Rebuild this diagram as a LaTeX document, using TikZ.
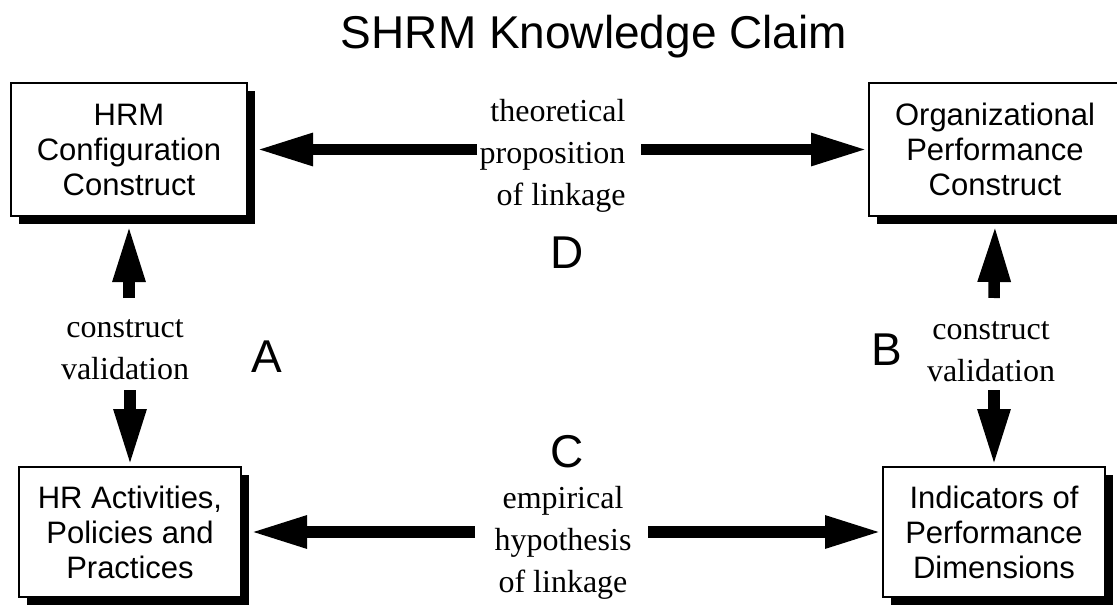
\documentclass[tikz,border=0pt]{standalone}
\usepackage{fontspec}
\setmainfont{Liberation Serif}
\setsansfont{Liberation Sans}
\usetikzlibrary{arrows.meta,shadows,calc}

\begin{document}
\begin{tikzpicture}[x=1pt,y=-1pt,
    box/.style={draw,line width=2pt,fill=white,align=center,inner sep=0pt,
      font=\sffamily\fontsize{31}{35}\selectfont,
      drop shadow={fill=black,opacity=1,shadow xshift=8pt,shadow yshift=-8pt}},
    linklabel/.style={font=\fontsize{32}{42}\selectfont},
    bigletter/.style={font=\sffamily\fontsize{46}{50}\selectfont},
    fatarrow/.style={line width=11.5pt,-{Triangle[length=57pt,width=30pt]}}]
    \useasboundingbox (0,0) rectangle (1117,607);
    \node[font=\sffamily\fontsize{46}{50}\selectfont] (title) at (594,37)
      {SHRM Knowledge Claim};
    % the four constructs
    \node[box,minimum width=236pt,minimum height=133pt] (hrm) at (129,149.5)
      {HRM\\Configuration\\Construct};
    \node[box,minimum width=252pt,minimum height=133pt] (org) at (995,149.5)
      {Organizational\\Performance\\Construct};
    \node[box,minimum width=222pt,minimum height=130pt] (hra) at (130,532)
      {HR Activities,\\Policies and\\Practices};
    \node[box,minimum width=222pt,minimum height=130pt] (ind) at (994,532)
      {Indicators of\\Performance\\Dimensions};
    % labels
    \node[linklabel,align=right,anchor=east] (theo) at (629,156)
      {theoretical\\proposition\\of linkage};
    \node[linklabel,align=center] (emp) at (563,543)
      {empirical\\hypothesis\\of linkage};
    \node[linklabel,align=center] (cvl) at (125,350) {construct\\validation};
    \node[linklabel,align=center] (cvr) at (991,352) {construct\\validation};
    \node[bigletter] (la) at (267,357) {A};
    \node[bigletter] (lb) at (887,350) {B};
    \node[bigletter] (lc) at (567,452) {C};
    \node[bigletter] (ld) at (567,253) {D};
    % arrows
    \coordinate (tl) at (477,149.5);
    \coordinate (tr) at (641,149.5);
    \coordinate (bl) at (475,532);
    \coordinate (br) at (648,532);
    \draw[fatarrow] (tl) -- ($(hrm.east)+(8,0)$);
    \draw[fatarrow] (tr) -- (org.west);
    \draw[fatarrow] (bl) -- ($(hra.east)+(8,0)$);
    \draw[fatarrow] (br) -- (ind.west);
    \coordinate (lu) at (129,298);
    \coordinate (ld) at (130,390);
    \coordinate (ru) at (994,298);
    \coordinate (rd) at (994,390);
    \draw[fatarrow] (lu) -- ($(hrm.south)+(0,8)$);
    \draw[fatarrow] (ld) -- (hra.north);
    \draw[fatarrow] (ru) -- ($(org.south)+(0,8)$);
    \draw[fatarrow] (rd) -- (ind.north);
  \end{tikzpicture}
\end{document}
